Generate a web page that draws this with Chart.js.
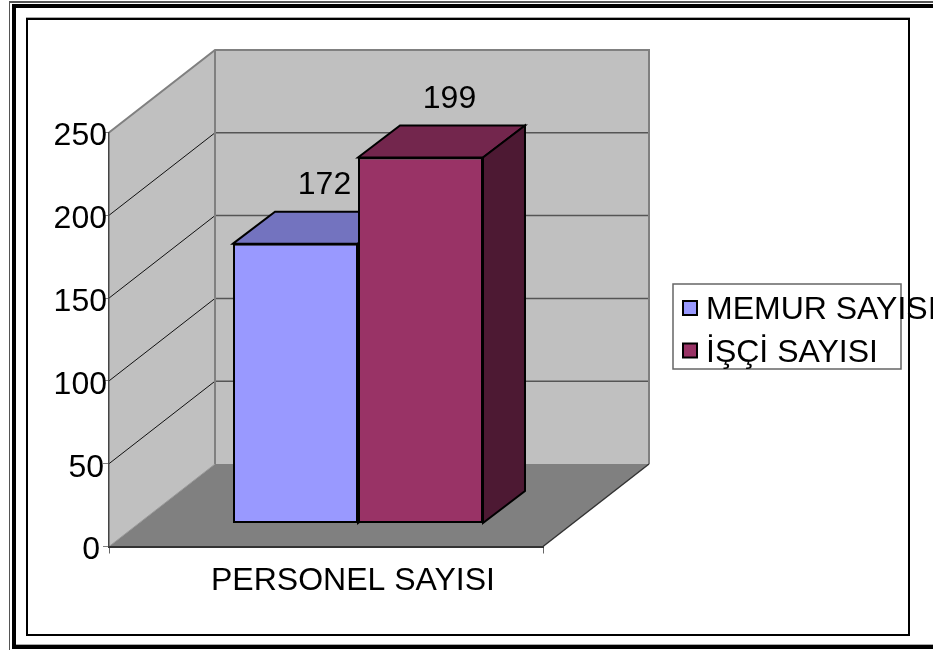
<!DOCTYPE html>
<html>
<head>
<meta charset="utf-8">
<title>PERSONEL SAYISI</title>
<script src="https://cdn.jsdelivr.net/npm/chart.js@4"></script>
<style>
	html, body { margin: 0; padding: 0; background: #fff; overflow: hidden; }
	canvas { display: block; }
</style>
</head>
<body>
<canvas id="chart" width="933" height="650"></canvas>
<script>
	'use strict';

	var categories = ['PERSONEL SAYISI'];
	var seriesNames = ['MEMUR SAYISI', 'İŞÇİ SAYISI'];
	// drawn height differs from the printed label in the source picture
	var memurValues = [169];
	var isciValues = [221];
	var printedLabels = ['172', '199'];
	var yTicks = [0, 50, 100, 150, 200, 250];

	var frontColors = ['#9999ff', '#993366'];
	var topColors = ['#7373bf', '#73264d'];
	var sideColors = ['#4d4d80', '#4d1933'];

	var font = 'Liberation Sans';
	var fontSize = 32;
	var wallDepth = { x: 106, y: -82.5 };
	var barShift = { x: 32, y: -23 };
	var barDepth = { x: 42, y: -32 };

	function poly(ctx, points, fill, stroke, width) {
		ctx.beginPath();
		points.forEach(function (p, i) {
			if (i === 0) {
				ctx.moveTo(p[0], p[1]);
			} else {
				ctx.lineTo(p[0], p[1]);
			}
		});
		if (fill) {
			ctx.closePath();
			ctx.fillStyle = fill;
			ctx.fill();
		}
		if (stroke) {
			ctx.strokeStyle = stroke;
			ctx.lineWidth = width;
			ctx.stroke();
		}
	}

	function drawFrame(ctx) {
		ctx.fillStyle = '#fff';
		ctx.fillRect(0, 0, 933, 650);
		// outer double line
		ctx.fillStyle = '#555';
		ctx.fillRect(9, 1, 924, 2);
		ctx.fillRect(9, 1, 1, 649);
		ctx.fillStyle = '#000';
		ctx.fillRect(12, 4, 921, 4);
		ctx.fillRect(12, 4, 4, 645);
		ctx.fillRect(12, 645, 921, 4);
		ctx.fillStyle = '#aaa';
		ctx.fillRect(16, 644, 917, 1);
		// inner line
		ctx.fillStyle = '#aaa';
		ctx.fillRect(26, 17, 884, 1);
		ctx.fillStyle = '#000';
		ctx.fillRect(26, 18, 884, 2);
		ctx.fillRect(26, 18, 2, 618);
		ctx.fillRect(26, 634, 884, 2);
		ctx.fillRect(908, 18, 2, 618);
	}

	function drawWalls(chart) {
		var ctx = chart.ctx,
			area = chart.chartArea,
			y = chart.scales.y,
			dx = wallDepth.x,
			dy = wallDepth.y,
			l = area.left,
			r = area.right,
			t = area.top,
			b = area.bottom;

		poly(ctx, [[l, t], [l + dx, t + dy], [l + dx, b + dy], [l, b]], '#c0c0c0');
		poly(ctx, [[l + dx, t + dy], [r + dx, t + dy], [r + dx, b + dy], [l + dx, b + dy]], '#c0c0c0');
		poly(ctx, [[l, b], [l + dx, b + dy], [r + dx, b + dy], [r, b]], '#808080');

		yTicks.forEach(function (value) {
			var py = y.getPixelForValue(value);
			if (value > 0 && value < 250) {
				poly(ctx, [[l, py], [l + dx, py + dy]], null, '#111', 1);
				poly(ctx, [[l + dx, py + dy], [r + dx, py + dy]], null, '#555', 1.5);
			}
		});

		poly(ctx, [[l, t], [l + dx, t + dy], [r + dx, t + dy], [r + dx, b + dy]], null, '#808080', 2);
		poly(ctx, [[l + dx, t + dy], [l + dx, b + dy]], null, '#808080', 2);
		poly(ctx, [[l, b], [l + dx, b + dy]], null, '#9a9a9a', 1);
		poly(ctx, [[r, b], [r + dx, b + dy]], null, '#333', 1.5);
	}

	function drawLegend(ctx) {
		ctx.fillStyle = '#fff';
		ctx.fillRect(673, 284, 228, 85);
		ctx.strokeStyle = '#666';
		ctx.lineWidth = 1.5;
		ctx.strokeRect(673, 284, 228, 85);
		ctx.font = fontSize + 'px "' + font + '"';
		ctx.textAlign = 'left';
		ctx.textBaseline = 'alphabetic';
		seriesNames.forEach(function (name, i) {
			var top = 301 + i * 42.5;
			ctx.fillStyle = frontColors[i];
			ctx.fillRect(683, top, 14, 14);
			ctx.strokeStyle = '#000';
			ctx.lineWidth = 2;
			ctx.strokeRect(683, top, 14, 14);
			ctx.fillStyle = '#000';
			ctx.fillText(name, 706, 319 + i * 42.5);
		});
	}

	// the tick labels do not share one right edge in the source
	function nudgeTickLabels(chart) {
		chart.scales.y.getLabelItems().forEach(function (item) {
			if (item.label === '0') {
				item.options.translation[0] -= 7;
			} else if (item.label === '50') {
				item.options.translation[0] -= 3;
			}
		});
	}

	var bar3d = {
		id: 'bar3d',
		afterLayout: nudgeTickLabels,
		beforeDraw: function (chart) {
			drawFrame(chart.ctx);
			drawWalls(chart);
			drawLegend(chart.ctx);
		},
		// chart.js paints the first dataset last, here the second bar has to cover the first
		beforeDatasetsDraw: function (chart) {
			var ctx = chart.ctx;

			ctx.save();
			ctx.translate(barShift.x, barShift.y);
			seriesNames.forEach(function (name, i) {
				var meta = chart.getDatasetMeta(i);

				meta.data.forEach(function (bar) {
					var l = bar.x - bar.width / 2,
						r = bar.x + bar.width / 2,
						t = bar.y,
						b = bar.base,
						dx = barDepth.x,
						dy = barDepth.y;

					poly(ctx, [[l, t], [l + dx, t + dy], [r + dx, t + dy], [r, t]], topColors[i], '#000', 2);
					poly(ctx, [[r, t], [r + dx, t + dy], [r + dx, b + dy], [r, b]], sideColors[i], '#000', 2);
				});
				meta.controller.draw();
			});
			ctx.restore();

			ctx.font = fontSize + 'px "' + font + '"';
			ctx.fillStyle = '#000';
			ctx.textAlign = 'center';
			ctx.textBaseline = 'middle';
			printedLabels.forEach(function (label, i) {
				var bar = chart.getDatasetMeta(i).data[0];
				ctx.fillText(label, bar.x + barShift.x + 29, bar.y + barShift.y - 58);
			});
			return false;
		}
	};

	new Chart(document.getElementById('chart'), {
		type: 'bar',
		data: {
			labels: categories,
			datasets: [
				{ label: seriesNames[0], data: memurValues, backgroundColor: frontColors[0] },
				{ label: seriesNames[1], data: isciValues, backgroundColor: frontColors[1] }
			]
		},
		options: {
			responsive: false,
			animation: false,
			layout: {
				padding: { left: 0, top: 132.5, right: 390, bottom: 0 }
			},
			datasets: {
				bar: {
					categoryPercentage: 0.576,
					barPercentage: 1,
					borderColor: '#000',
					borderWidth: 2,
					borderSkipped: false
				}
			},
			plugins: {
				legend: { display: false },
				tooltip: { enabled: false }
			},
			scales: {
				x: {
					afterFit: function (scale) { scale.height = 103.5; },
					grid: { drawOnChartArea: false, tickLength: 7, color: '#666', tickColor: '#666' },
					border: { color: '#333', width: 2 },
					ticks: {
						color: '#000',
						font: { family: font, size: fontSize },
						padding: 8,
						labelOffset: 27,
						maxRotation: 0
					}
				},
				y: {
					min: 0,
					max: 250,
					afterFit: function (scale) { scale.width = 109; },
					afterBuildTicks: function (scale) {
						scale.ticks = yTicks.map(function (value) { return { value: value }; });
					},
					grid: { drawOnChartArea: false, tickLength: 6, color: '#808080', tickColor: '#808080' },
					border: { color: '#444', width: 1.5 },
					ticks: {
						color: '#000',
						font: { family: font, size: fontSize },
						padding: -4,
						labelOffset: 4
					}
				}
			}
		},
		plugins: [bar3d]
	});
</script>
</body>
</html>
